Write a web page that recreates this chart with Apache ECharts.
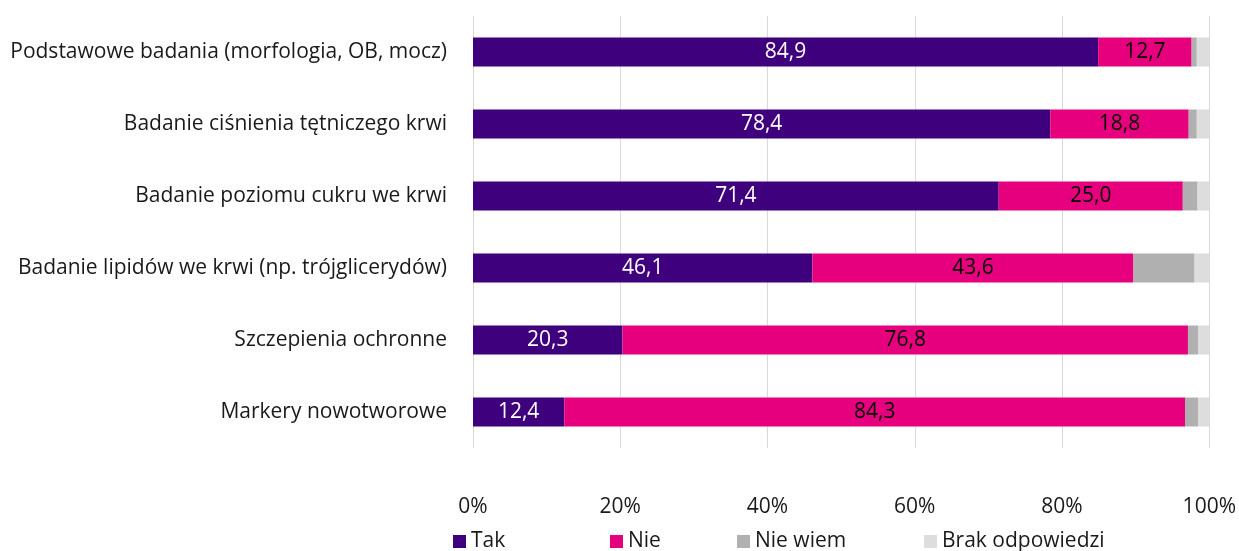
<!DOCTYPE html>
<html><head><meta charset="utf-8">
<script src="https://cdn.jsdelivr.net/npm/echarts@6/dist/echarts.min.js"></script>
<style>html,body{margin:0;padding:0;background:#fff}#c{width:1239px;height:551px}</style>
</head><body><div id="c"></div>
<script>
const categories = ["Podstawowe badania (morfologia, OB, mocz)","Badanie ciśnienia tętniczego krwi","Badanie poziomu cukru we krwi","Badanie lipidów we krwi (np. trójglicerydów)","Szczepienia ochronne","Markery nowotworowe"];
const tak = [84.9,78.4,71.4,46.1,20.3,12.4];
const nie = [12.7,18.8,25.0,43.6,76.8,84.3];
const nieWiem = [0.7,1.1,2.0,8.3,1.4,1.8];
const brak = [1.7,1.7,1.6,2.0,1.5,1.5];
const seriesNames = ["Tak","Nie","Nie wiem","Brak odpowiedzi"];
const colors = ["#3F007D","#E6007E","#B0B0B0","#DDDDDD"];
const FONT = "Open Sans";
const FS = 21;
const fmt = p => p.value.toFixed(1).replace('.', ',');
const chart = echarts.init(document.getElementById('c'));
const mk = (name, data, color, labelColor) => ({
  name, type:'bar', stack:'s', data: data.slice().reverse(), barWidth:29,
  itemStyle:{color},
  label: labelColor ? {show:true, position:'inside', color:labelColor, fontFamily:FONT, fontSize:FS, formatter:fmt} : {show:false},
  emphasis:{disabled:true}
});
const legendPos = [453, 610, 737, 924];
chart.setOption({
  animation:false,
  textStyle:{fontFamily:FONT},
  grid:{left:473, right:29, top:16, bottom:103, containLabel:false},
  xAxis:{type:'value', min:0, max:100, interval:20,
    axisLabel:{formatter:'{value}%', fontSize:FS, color:'#1a1a1a', fontFamily:FONT, margin:49},
    splitLine:{lineStyle:{color:'#D9D9D9', width:1}},
    axisLine:{show:false}, axisTick:{show:false}},
  yAxis:{type:'category', data: categories.slice().reverse(),
    axisLabel:{fontSize:FS, color:'#1a1a1a', fontFamily:FONT, margin:26},
    axisLine:{show:false}, axisTick:{show:false}},
  legend: seriesNames.map((n,i)=>({data:[n], left:legendPos[i], top:531, padding:0, itemWidth:13, itemHeight:13, itemGap:5,
    icon:'rect', textStyle:{fontSize:FS, color:'#1a1a1a', fontFamily:FONT}})),
  series:[mk(seriesNames[0], tak, colors[0], '#fff'), mk(seriesNames[1], nie, colors[1], '#000'),
          mk(seriesNames[2], nieWiem, colors[2], null), mk(seriesNames[3], brak, colors[3], null)]
});
</script></body></html>
